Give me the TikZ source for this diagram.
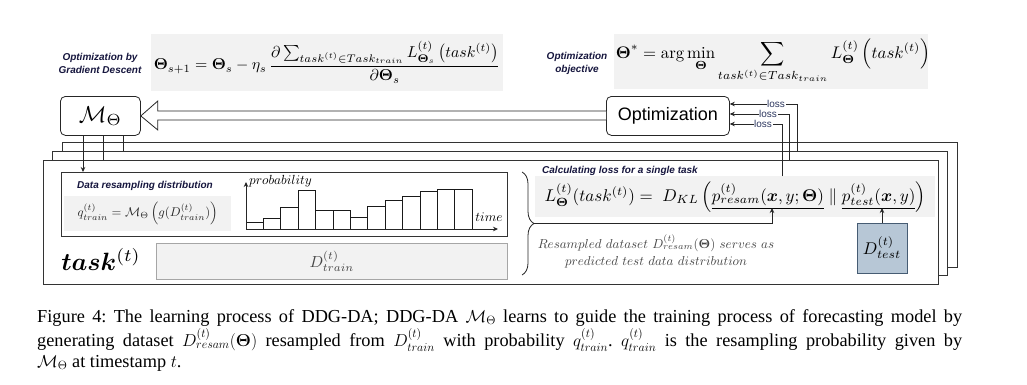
\documentclass[tikz,border=0pt]{standalone}
\usepackage{amsmath}
\usepackage{bm}
\usepackage{fontspec}
\newfontfamily\arialfont{Liberation Sans}
\newfontfamily\capfont{Liberation Serif}
\usetikzlibrary{arrows.meta,decorations.pathreplacing,calc}
\definecolor{labelcol}{RGB}{22,22,62}
\definecolor{boxgray}{RGB}{242,242,242}
\definecolor{testfill}{RGB}{183,199,214}
\definecolor{testdraw}{RGB}{70,92,115}
\definecolor{losscol}{RGB}{45,55,95}
\definecolor{softtext}{RGB}{70,70,70}
\begin{document}
\frenchspacing
\begin{tikzpicture}[x=1pt,y=-1pt,
  lbl/.style={font=\arialfont\bfseries\itshape\fontsize{10}{13}\selectfont, text=labelcol, align=center, inner sep=0pt},
  graybox/.style={fill=boxgray, draw=none, inner sep=0pt, anchor=north west},
  framebox/.style={draw=black!80, line width=0.8pt, fill=white, inner sep=0pt, anchor=north west},
  rbox/.style={draw=black!85, line width=0.8pt, rounded corners=5pt, fill=white, inner sep=0pt, anchor=north west},
  conn/.style={line width=0.7pt, draw=black!85},
  tip/.style={-{Stealth[length=5pt,width=4.5pt]}},
  bar/.style={line width=0.8pt, draw=black!90, fill=white},
  losslbl/.style={font=\arialfont\fontsize{10}{12}\selectfont, text=losscol, fill=white, inner sep=0.6pt},
  capline/.style={font=\capfont\fontsize{18.3}{21}\selectfont, anchor=base west, inner sep=0pt}
]
\useasboundingbox (0,0) rectangle (1027,384);
\fill[white] (0,0) rectangle (1027,384);

% ---------- top formulas ----------
\node[lbl] (lgd) at (100,63) {Optimization by\\Gradient Descent};
\node[graybox, minimum width=352pt, minimum height=57pt] (g1) at (151,34) {};
\node (f1) at (327,62) {\scalebox{1.58}{$\boldsymbol{\Theta}_{s+1}=\boldsymbol{\Theta}_s-\eta_s\,\dfrac{\partial\sum_{task^{(t)}\in Task_{train}} L^{(t)}_{\boldsymbol{\Theta}_s}\left(task^{(t)}\right)}{\partial\boldsymbol{\Theta}_s}$}};

\node[lbl] (lobj) at (577,63) {Optimization\\objective};
\node[graybox, minimum width=314pt, minimum height=55pt] (g2) at (614,34) {};
\node (f2) at (773,61) {\scalebox{1.68}{$\displaystyle\boldsymbol{\Theta}^{*}=\arg\min_{\boldsymbol{\Theta}}\sum_{task^{(t)}\in Task_{train}} L^{(t)}_{\boldsymbol{\Theta}}\left(task^{(t)}\right)$}};

% ---------- stacked task frames ----------
\node[framebox, minimum width=895pt, minimum height=125pt] (fA) at (62,142) {};
\node[framebox, minimum width=895pt, minimum height=124pt] (fB) at (52,151) {};
\node[framebox, minimum width=895pt, minimum height=124pt] (fC) at (43,160) {};

% ---------- model and optimization boxes ----------
\node[rbox, minimum width=80pt, minimum height=39pt] (M) at (60,96) {\scalebox{2.3}{$\mathcal{M}_{\Theta}$}};
\node[rbox, minimum width=123pt, minimum height=39pt] (O) at (606,96) {\arialfont\fontsize{18}{20}\selectfont Optimization};

% hollow arrow from Optimization to M
\coordinate (ha) at ($(M.east)+(17,0)$);
\draw[line width=0.8pt, draw=black!85, fill=white]
  (O.west |- 0,111) -- (ha |- 0,111) -- (ha |- 0,101) -- (M.east)
  -- (ha |- 0,130) -- (ha |- 0,120) -- (O.west |- 0,120);

% ---------- inner content of front task ----------
\node[framebox, line width=0.8pt, minimum width=446pt, minimum height=64pt] (Db) at (61,172) {};
\node[lbl, anchor=center] (ldr) at (145,186) {Data resampling distribution};
\node[graybox, minimum width=167pt, minimum height=35pt] (qb) at (64,196) {};
\node[text=black!85] (qf) at (qb.center) {\scalebox{1.27}{$q^{(t)}_{train}=\mathcal{M}_{\Theta}\left(g(D^{(t)}_{train})\right)$}};

% histogram
\coordinate (h0) at (246,229);
\foreach \h [count=\i from 0] in {222.3,218.3,207.7,190,210.7,210.7,217.7,206.7,200.3,196,191.7,189.3,189.3}
  \draw[bar] (246+\i*17.4,229) rectangle (263.4+\i*17.4,\h);
\coordinate (yax) at (246,182);
\coordinate (xax) at (498,229);
\draw[conn,line width=0.8pt,tip] (h0) -- (yax);
\draw[conn,line width=0.8pt,tip] (h0) -- (xax);
\node[anchor=west, inner sep=0pt] (prob) at (249,181) {\scalebox{1.32}{$probability$}};
\node[inner sep=0pt] (tim) at (489,217) {\scalebox{1.32}{$time$}};

\node (tk) at (101,259) {\scalebox{2.5}{$\boldsymbol{task}^{(t)}$}};
\node[graybox, draw=black!35, line width=0.6pt, minimum width=351pt, minimum height=36pt] (Dtr) at (156,243) {};
\node[text=softtext] at (Dtr.center) {\scalebox{1.6}{$D^{(t)}_{train}$}};

% brace
\draw[line width=0.8pt, draw=black!85, decorate, decoration={brace, amplitude=12pt}] (522,172) -- (522,275);
\coordinate (btip) at (534,223.5);

% loss formula
\node[lbl, anchor=west] (lcl) at (542,171) {Calculating loss for a single task};
\node[graybox, minimum width=400pt, minimum height=41pt] (Lb) at (535,176) {};
\node (Lf) at (735,197) {\scalebox{1.7}{$L^{(t)}_{\boldsymbol{\Theta}}(task^{(t)})=\;D_{KL}\left(\underline{p^{(t)}_{resam}(\boldsymbol{x},y;\boldsymbol{\Theta})}\parallel\underline{p^{(t)}_{test}(\boldsymbol{x},y)}\right)$}};
\coordinate (presam) at (772,208);
\coordinate (ptest) at (882,208);

\node[draw=testdraw, fill=testfill, line width=0.8pt, minimum width=50pt, minimum height=50pt, inner sep=0pt] (Dt) at (882,248) {\scalebox{1.7}{$D^{(t)}_{test}$}};
\draw[conn,tip] (Dt.north) -- (ptest);
\draw[conn,tip] (btip) -- (btip -| presam) -- (presam);

\node[text=softtext] (rs1) at (656,243) {\scalebox{1.3}{$Resampled\ dataset\ D^{(t)}_{resam}(\boldsymbol{\Theta})\ serves\ as$}};
\node[text=softtext] (rs2) at (656,262) {\scalebox{1.3}{$predicted\ test\ data\ distribution$}};

% ---------- connectors from M ----------
\coordinate (m1) at ($(M.south west)+(23,0)$);
\coordinate (m2) at ($(M.south west)+(43,0)$);
\coordinate (m3) at ($(M.south west)+(63,0)$);
\draw[conn,tip] (m1) -- (m1 |- Db.north);
\draw[conn] (m2) -- (m2 |- fC.north);
\draw[conn] (m3) -- (m3 |- fB.north);

% ---------- loss connectors ----------
\coordinate (l1) at (797,104);
\coordinate (l2) at (789,114);
\coordinate (l3) at (782,124);
\draw[conn,tip] (l1 |- fB.north) -- (l1) -- (O.east |- l1);
\draw[conn,tip] (l2 |- fC.north) -- (l2) -- (O.east |- l2);
\draw[conn,tip] (l3 |- Lb.north) -- (l3) -- (O.east |- l3);
\node[losslbl] (ls1) at (776,104) {loss};
\node[losslbl] (ls2) at (768,114) {loss};
\node[losslbl] (ls3) at (763,124) {loss};

% ---------- caption ----------
\node[capline] (c1) at (37,322) {\makebox[925pt][s]{Figure 4: The learning process of DDG-DA; DDG-DA $\mathcal{M}_{\Theta}$ learns to guide the training process of forecasting model by}};
\node[capline] (c2) at (37,346.5) {\makebox[925pt][s]{generating dataset $D^{(t)}_{resam}(\boldsymbol{\Theta})$ resampled from $D^{(t)}_{train}$ with probability $q^{(t)}_{train}$. $q^{(t)}_{train}$ is the resampling probability given by}};
\node[capline] (c3) at (37,367) {$\mathcal{M}_{\Theta}$ at timestamp $t$.};
\end{tikzpicture}
\end{document}
